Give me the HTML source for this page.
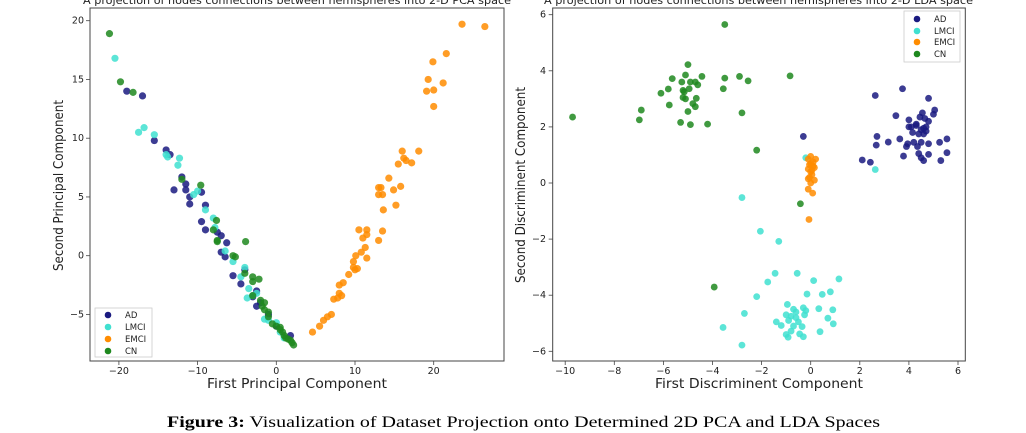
<!DOCTYPE html>
<html><head><meta charset="utf-8"><style>
html,body{margin:0;padding:0;background:#fff;width:1026px;height:433px;overflow:hidden}
svg{display:block}
text{font-family:"DejaVu Sans","Liberation Sans",sans-serif;fill:#222}
.cap{font-family:"Liberation Serif",serif;font-size:16px;fill:#000}
</style></head><body>
<svg id="s" width="1026" height="433" xmlns="http://www.w3.org/2000/svg">
<text x="83" y="4" font-size="11" textLength="428" lengthAdjust="spacingAndGlyphs">A projection of nodes connections between hemispheres into 2-D PCA space</text>
<text x="544" y="4" font-size="11" textLength="429" lengthAdjust="spacingAndGlyphs">A projection of nodes connections between hemispheres into 2-D LDA space</text>
<rect x="90" y="8" width="414" height="353" fill="none" stroke="#444" stroke-width="1"/>
<rect x="552.7" y="8" width="412.6" height="353" fill="none" stroke="#444" stroke-width="1"/>
<g id="g"></g>
<text x="207" y="388" font-size="13.5" textLength="180" lengthAdjust="spacingAndGlyphs">First Principal Component</text>
<text transform="translate(63,271) rotate(-90)" font-size="13.5" textLength="171" lengthAdjust="spacingAndGlyphs">Second Principal Component</text>
<text x="655" y="388" font-size="13.5" textLength="208" lengthAdjust="spacingAndGlyphs">First Discriminent Component</text>
<text transform="translate(525,283) rotate(-90)" font-size="13.5" textLength="196" lengthAdjust="spacingAndGlyphs">Second Discriminent Component</text>
<rect x="95" y="308" width="57" height="49" fill="#fff" stroke="#ccc" stroke-width="0.8"/>
<rect x="904" y="11" width="56" height="51" fill="#fff" stroke="#ccc" stroke-width="0.8"/>
<text x="167" y="427" class="cap" font-size="17" textLength="713" lengthAdjust="spacingAndGlyphs"><tspan font-weight="bold">Figure 3:</tspan> Visualization of Dataset Projection onto Determined 2D PCA and LDA Spaces</text>
</svg>
<script>
var NS="http://www.w3.org/2000/svg",g=document.getElementById('g'),s=document.getElementById('s');
function el(t,a,txt){var e=document.createElementNS(NS,t);for(var k in a)e.setAttribute(k,a[k]);if(txt!==undefined)e.textContent=txt;return e;}
var C={AD:'#1a1a80',LMCI:'#40e0d0',EMCI:'#ff8c00',CN:'#1e881e'};
function P(x,y){return [276.3+x*7.87,255.7-y*11.75];}
function L(x,y){return [810.7+x*24.55,183-y*28.05];}
var pca={
AD:[[-19,14],[-17,13.6],[-15.5,9.8],[-14,9],[-13.5,8.6],[-12,6.7],[-11.5,6.1],[-13,5.6],[-11.5,5.6],[-11,5],[-11,4.4],[-9.5,5.4],[-9,4.3],[-9.5,2.9],[-9,2.2],[-7.5,2],[-7,1.7],[-6.3,1.1],[-7,0.3],[-6.5,-0.1],[-5.5,-1.7],[-4,-1.2],[-4.5,-2.4],[-2.5,-3],[-3,-3.5],[-2.5,-4.3],[-1,-5],[0,-6],[1.8,-6.8],[-2,-4]],
LMCI:[[-20.5,16.8],[-17.5,10.5],[-16.8,10.9],[-15.5,10.3],[-14,8.6],[-13.8,8.4],[-12.5,7.7],[-12.3,8.3],[-10.5,5.2],[-10,5.5],[-9,3.9],[-8,3.2],[-7.8,2.4],[-6.5,0.4],[-5.5,-0.5],[-4.5,-1.8],[-4,-1],[-3.5,-2.8],[-3.7,-3.6],[-3,-3.4],[-2.5,-3.2],[-1.5,-5.4],[-1,-5.5],[0,-5.7],[0.5,-6.5],[1,-7]],
EMCI:[[4.6,-6.5],[5.5,-6],[6,-5.5],[6.5,-5.2],[7,-5],[7.3,-3.7],[7.8,-3.6],[8,-3.2],[8.3,-3.4],[8,-2.5],[8.5,-2.3],[9.2,-1.6],[9.8,-0.5],[9.8,-1],[10,-1.2],[10.3,-1.1],[10.1,0],[10.5,2.2],[11,1.5],[11.5,1.8],[11.5,2.2],[10.8,0.3],[11.3,0.7],[11.5,-0.2],[13,5.8],[13.3,5.8],[13,5.2],[13.5,5.2],[13.6,3.9],[13,1.3],[13.5,2.1],[14.3,6.6],[14.9,5.6],[15.2,4.3],[15.5,7.8],[15.8,5.9],[16,8.9],[16.2,8.3],[16.5,8.1],[17.2,7.9],[18.1,8.9],[19.1,14],[19.3,15],[19.9,16.5],[20,14.1],[20,12.7],[21.2,14.7],[21.6,17.2],[23.6,19.7],[26.5,19.5]],
CN:[[-21.2,18.9],[-19.8,14.8],[-18.2,13.9],[-12,6.5],[-9.6,6],[-7.6,3],[-8,2.2],[-7.5,1.3],[-7.5,1.2],[-5.5,0],[-5.2,-0.1],[-3.9,1.2],[-4,-1.5],[-3,-1.8],[-2.2,-2],[-3,-2.2],[-3,-3.4],[-2,-3.8],[-1.8,-4.3],[-1.5,-4],[-1.5,-4.6],[-1,-4.8],[-1,-5.2],[-0.5,-5.8],[0,-6],[0.5,-6.3],[0.8,-6.5],[1,-6.8],[1.2,-7],[1.5,-7.1],[2,-7.4],[2.2,-7.6],[0.5,-6.1],[1.8,-7.2]]};
var lda={
AD:[[-0.3,1.66],[2.1,0.82],[2.43,0.74],[2.63,3.12],[2.67,1.35],[2.7,1.66],[3.16,1.46],[3.47,2.4],[3.63,1.57],[3.74,3.36],[3.78,0.96],[3.9,1.3],[4.0,2.25],[4.1,2.0],[4.2,1.45],[4.3,2.1],[4.35,1.3],[4.4,1.05],[4.5,1.9],[4.6,1.95],[4.55,2.5],[4.5,1.45],[4.6,1.75],[4.7,2.0],[4.8,2.2],[4.8,1.4],[4.65,2.3],[4.45,2.35],[4.3,2.05],[4.0,2.0],[4.5,0.9],[4.6,0.8],[4.8,1.02],[4.8,3.02],[5,2.45],[5.05,2.6],[5.25,1.45],[5.3,0.8],[5.55,1.57],[5.55,1.08],[4.15,1.8],[4.4,1.75],[4.7,1.85],[3.95,1.4]],
LMCI:[[2.63,0.48],[-0.2,0.9],[-2.8,-0.52],[-2.05,-1.72],[-1.3,-2.08],[-1.45,-3.22],[-0.55,-3.22],[1.15,-3.42],[0.12,-3.48],[-1.75,-3.53],[-0.15,-3.96],[0.47,-3.97],[0.8,-3.88],[-2.2,-4.05],[-0.95,-4.33],[-0.7,-4.5],[-0.3,-4.45],[-0.2,-4.55],[0.33,-4.48],[0.9,-4.52],[-2.7,-4.65],[-1,-4.7],[-0.8,-4.75],[-0.6,-4.8],[-0.9,-4.9],[-0.5,-4.95],[-0.25,-4.7],[-1.4,-4.95],[-1.2,-5.08],[-0.7,-5.1],[-0.35,-5.12],[-0.8,-5.28],[0.7,-4.82],[0.92,-5.02],[-3.57,-5.15],[0.38,-5.3],[-0.45,-5.38],[-0.3,-5.48],[-0.92,-5.5],[-2.8,-5.78],[-1.0,-5.4],[-0.6,-4.6]],
EMCI:[[0,0.95],[-0.1,0.85],[0.2,0.85],[0,0.7],[0.1,0.6],[-0.1,0.5],[0.15,0.55],[0,0.4],[0.05,0.3],[-0.05,0.2],[0.15,0.1],[0,0.0],[-0.1,0.15],[0.1,0.75],[-0.05,0.65],[-0.1,-0.22],[0.08,-0.36],[-0.07,-1.3],[0.05,0.45]],
CN:[[-9.7,2.35],[-6.98,2.25],[-6.9,2.6],[-6.1,3.2],[-5.8,3.35],[-5.76,2.78],[-5.64,3.72],[-5.3,2.16],[-5.25,3.6],[-5.2,3.3],[-5.2,3.05],[-5.15,3.25],[-5.1,3],[-5.1,3.85],[-5,4.22],[-5,2.55],[-4.95,3.36],[-4.9,2.08],[-4.9,3.6],[-4.8,2.83],[-4.7,2.72],[-4.66,3.02],[-4.7,3.6],[-4.6,3.5],[-4.43,3.8],[-4.2,2.1],[-3.56,3.36],[-3.5,5.65],[-3.5,3.74],[-2.9,3.8],[-2.8,2.5],[-2.55,3.64],[-2.2,1.17],[-0.84,3.82],[-0.42,-0.74],[-3.93,-3.71]]};
['AD','LMCI','EMCI','CN'].forEach(function(k){
 pca[k].forEach(function(p){var q=P(p[0],p[1]);g.appendChild(el('circle',{cx:q[0],cy:q[1],r:3.6,fill:C[k],'fill-opacity':0.85}));});
 lda[k].forEach(function(p){var q=L(p[0],p[1]);g.appendChild(el('circle',{cx:q[0],cy:q[1],r:3.4,fill:C[k],'fill-opacity':0.85}));});
});
function tick(x1,y1,x2,y2){s.appendChild(el('line',{x1:x1,y1:y1,x2:x2,y2:y2,stroke:'#444','stroke-width':0.8}));}
[-20,-10,0,10,20].forEach(function(v){var x=P(v,0)[0];tick(x,361,x,365);s.appendChild(el('text',{x:x,y:374,'font-size':9.5,'text-anchor':'middle'},(v<0?'\u2212'+(-v):v)));});
[-5,0,5,10,15,20].forEach(function(v){var y=P(0,v)[1];tick(86,y,90,y);s.appendChild(el('text',{x:84,y:y+3,'font-size':9.5,'text-anchor':'end'},(v<0?'\u2212'+(-v):v)));});
[-10,-8,-6,-4,-2,0,2,4,6].forEach(function(v){var x=L(v,0)[0];tick(x,361,x,365);s.appendChild(el('text',{x:x,y:374,'font-size':9.5,'text-anchor':'middle'},(v<0?'\u2212'+(-v):v)));});
[-6,-4,-2,0,2,4,6].forEach(function(v){var y=L(0,v)[1];tick(548.7,y,552.7,y);s.appendChild(el('text',{x:546,y:y+3,'font-size':9.5,'text-anchor':'end'},(v<0?'\u2212'+(-v):v)));});
function leg(mx,tx,ys){['AD','LMCI','EMCI','CN'].forEach(function(k,i){s.appendChild(el('circle',{cx:mx,cy:ys[i],r:3.3,fill:C[k]}));s.appendChild(el('text',{x:tx,y:ys[i]+3,'font-size':8.5},k));});}
leg(108,125,[315,327,339,351]);
leg(917,934,[19,31,42,54]);
</script>
</body></html>
